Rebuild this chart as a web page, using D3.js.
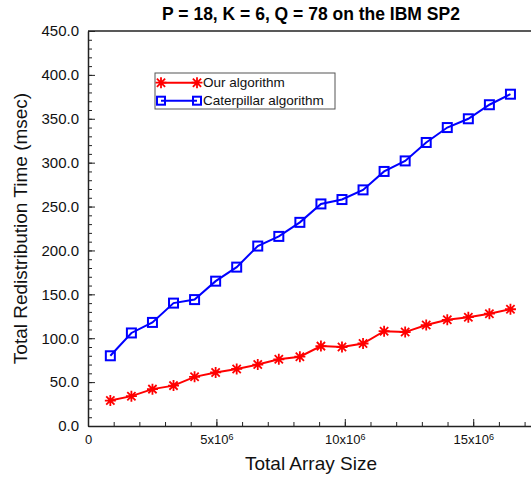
<!DOCTYPE html>
<html>
<head>
<meta charset="utf-8">
<title>Redistribution time</title>
<script src="https://d3js.org/d3.v7.min.js"></script>
<style>
 body { margin: 0; background: #fff; }
 svg { font-family: "Liberation Sans", Arial, sans-serif; }
 .tick line { stroke: #222; }
 .domain { stroke: #222; stroke-width: 1.5; }
 .title { font-weight: bold; font-size: 17.5px; fill: #000; }
 .label { font-size: 19px; fill: #111; }
</style>
</head>
<body>
<div id="chart"></div>
<script>
// array sizes (millions of elements)
var sizes = [0.87, 1.69, 2.51, 3.33, 4.15, 4.97, 5.79, 6.61, 7.43, 8.25,
             9.07, 9.89, 10.71, 11.53, 12.35, 13.17, 13.99, 14.81, 15.63, 16.45];
var ourAlg = [29, 34, 42, 46, 56, 61, 65, 70, 76, 79,
              91, 90, 94, 108, 107, 115, 121, 124, 128, 133];
var caterpillar = [80, 106, 118, 140, 144, 165, 181, 205, 216, 232,
                   253, 258, 269, 290, 302, 323, 340, 350, 366, 378];
var seriesNames = ["Our algorithm", "Caterpillar algorithm"];
var yTicks = [0, 50, 100, 150, 200, 250, 300, 350, 400, 450];
var xTicks = [0, 5, 10, 15];

var W = 531, H = 480;
var plotLeft = 88, plotTop = 31, plotBottom = 426;

var svg = d3.select("#chart").append("svg")
  .attr("width", W).attr("height", H);

var x = d3.scaleLinear().domain([0, 17.25]).range([plotLeft, W]);
var y = d3.scaleLinear().domain([0, 450]).range([plotBottom, plotTop]);

// title
svg.append("text")
  .attr("class", "title")
  .attr("x", 311).attr("y", 20)
  .attr("text-anchor", "middle")
  .text("P = 18, K = 6, Q = 78 on the IBM SP2");

// top frame line
svg.append("line")
  .attr("x1", plotLeft).attr("x2", W)
  .attr("y1", plotTop).attr("y2", plotTop)
  .attr("stroke", "#222").attr("stroke-width", 1.5);

// y axis: minor then major
svg.append("g")
  .attr("transform", "translate(" + plotLeft + ",0)")
  .call(d3.axisLeft(y).tickValues(d3.range(0, 451, 10)).tickSizeInner(-4).tickSizeOuter(0).tickFormat(""))
  .call(g => g.select(".domain").remove());

svg.append("g")
  .attr("transform", "translate(" + plotLeft + ",0)")
  .call(d3.axisLeft(y).tickValues(yTicks).tickSizeInner(-7).tickSizeOuter(0)
        .tickPadding(9).tickFormat(d3.format(".1f")))
  .call(g => g.selectAll("text").attr("font-size", 15).attr("fill", "#111")
              .attr("font-family", "Liberation Sans, Arial, sans-serif"));

// x axis
svg.append("g")
  .attr("transform", "translate(0," + plotBottom + ")")
  .call(d3.axisBottom(x).tickValues(d3.range(0, 17.1, 1)).tickSizeInner(-4).tickSizeOuter(0).tickFormat(""))
  .call(g => g.select(".domain").remove());

var xAxis = svg.append("g")
  .attr("transform", "translate(0," + plotBottom + ")")
  .call(d3.axisBottom(x).tickValues(xTicks).tickSizeInner(-7).tickSizeOuter(0)
        .tickPadding(9).tickFormat(""));

xAxis.selectAll(".tick text")
  .attr("font-size", 13).attr("fill", "#111")
  .attr("font-family", "Liberation Sans, Arial, sans-serif")
  .each(function(d) {
    var t = d3.select(this);
    if (d === 0) { t.text("0"); return; }
    t.text(d + "x10");
    t.append("tspan").attr("dy", "-0.45em").attr("font-size", 9).text("6");
  });

// axis titles
svg.append("text")
  .attr("class", "label")
  .attr("x", 311).attr("y", 470)
  .attr("text-anchor", "middle")
  .text("Total Array Size");

svg.append("text")
  .attr("class", "label")
  .attr("transform", "translate(27," + (plotTop + plotBottom) / 2 + ") rotate(-90)")
  .attr("text-anchor", "middle")
  .text("Total Redistribution Time (msec)");

// lines
var line = d3.line().x(d => x(d[0])).y(d => y(d[1]));
var redData = sizes.map((s, i) => [s, ourAlg[i]]);
var blueData = sizes.map((s, i) => [s, caterpillar[i]]);

svg.append("path").datum(blueData)
  .attr("fill", "none").attr("stroke", "#0000ff").attr("stroke-width", 2)
  .attr("d", line);
svg.append("path").datum(redData)
  .attr("fill", "none").attr("stroke", "#ff0000").attr("stroke-width", 2)
  .attr("d", line);

function star(g, cx, cy, r) {
  var p = "M" + cx + "," + (cy - r) + "V" + (cy + r) +
          "M" + (cx - r) + "," + cy + "H" + (cx + r);
  var q = r * 0.75;
  p += "M" + (cx - q) + "," + (cy - q) + "L" + (cx + q) + "," + (cy + q) +
       "M" + (cx - q) + "," + (cy + q) + "L" + (cx + q) + "," + (cy - q);
  g.append("path").attr("d", p).attr("stroke", "#ff0000").attr("stroke-width", 1.8).attr("fill", "none");
}
function square(g, cx, cy, s) {
  g.append("rect").attr("x", cx - s / 2).attr("y", cy - s / 2)
    .attr("width", s).attr("height", s)
    .attr("fill", "none").attr("stroke", "#0000ff").attr("stroke-width", 2);
}

var marks = svg.append("g");
blueData.forEach(d => square(marks, x(d[0]), y(d[1]), 9));
redData.forEach(d => star(marks, x(d[0]), y(d[1]), 5.5));

// legend
var lg = svg.append("g");
lg.append("rect")
  .attr("x", 155).attr("y", 73).attr("width", 180).attr("height", 36)
  .attr("fill", "#fff").attr("stroke", "#555").attr("stroke-width", 1);
var rows = [82.7, 100.7];
rows.forEach(function(ry, i) {
  var col = i === 0 ? "#ff0000" : "#0000ff";
  lg.append("line").attr("x1", 161).attr("x2", 197).attr("y1", ry).attr("y2", ry)
    .attr("stroke", col).attr("stroke-width", 2);
  if (i === 0) { star(lg, 161, ry, 5.5); star(lg, 197, ry, 5.5); }
  else { square(lg, 161, ry, 8); square(lg, 197, ry, 8); }
  lg.append("text").attr("x", 203).attr("y", ry)
    .attr("dominant-baseline", "central")
    .attr("font-size", 13.5).attr("fill", "#111")
    .text(seriesNames[i]);
});
</script>
</body>
</html>
